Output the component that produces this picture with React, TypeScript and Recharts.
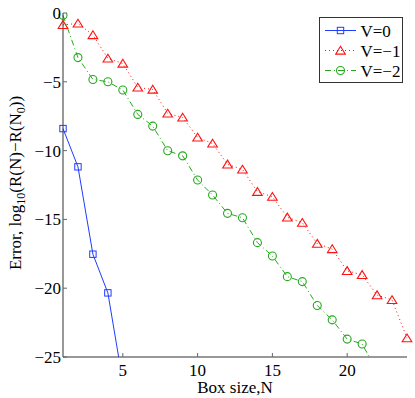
import React from 'react';
import { LineChart, Line, XAxis, YAxis, Legend } from 'recharts';

const boxSizes = [1, 2, 3, 4, 5, 6, 7, 8, 9, 10, 11, 12, 13, 14, 15, 16, 17, 18, 19, 20, 21, 22, 23, 24];
const errV0 = [-8.4, -11.18, -17.53, -20.34, -26.8];
const errVm1 = [-0.86, -0.76, -1.6, -3.3, -3.67, -5.41, -5.56, -7.3, -7.59, -9.04, -9.48, -11.0, -11.37, -12.99, -13.35, -14.85, -15.24, -16.76, -17.15, -18.74, -19.03, -20.5, -20.85, -23.63];
const errVm2 = [-0.17, -3.24, -4.83, -5.0, -5.6, -7.37, -8.22, -10.01, -10.38, -12.14, -13.23, -14.56, -14.88, -16.69, -17.66, -19.16, -19.52, -21.26, -22.3, -23.7, -24.06, -26.0];
const xTicks = [5, 10, 15, 20];
const yTicks = [-25, -20, -15, -10, -5, 0];
const seriesNames = ['V=0', 'V=\u22121', 'V=\u22122'];
const MINUS = '\u2212';

const data = boxSizes.map((n, i) => ({
  n,
  v0: errV0[i] ?? null,
  vm1: errVm1[i] ?? null,
  vm2: errVm2[i] ?? null,
}));

const FONT = "'Liberation Serif', 'Times New Roman', serif";
const BLUE = '#1f3cff';
const RED = '#ff1010';
const GREEN = '#26a81e';
const AXIS = '#333333';
const TICK = '#666666';

const fmt = (v: number) => (v < 0 ? MINUS + Math.abs(v) : String(v));

const BottomTick = (p: any) => (
  <g>
    <line x1={p.x} x2={p.x} y1={p.y} y2={p.y - 4} stroke={TICK} />
    <text x={p.x} y={p.y + 19} textAnchor="middle" fontFamily={FONT} fontSize={17} fill="#000">
      {fmt(p.payload.value)}
    </text>
  </g>
);
const TopTick = (p: any) => (
  <line x1={p.x} x2={p.x} y1={p.y} y2={p.y + 4} stroke={TICK} />
);
const LeftTick = (p: any) => (
  <g>
    <line x1={p.x} x2={p.x + 4} y1={p.y} y2={p.y} stroke={TICK} />
    <text x={p.x - 2} y={p.y + 6} textAnchor="end" fontFamily={FONT} fontSize={17} fill="#000">
      {fmt(p.payload.value)}
    </text>
  </g>
);
const RightTick = (p: any) => (
  <line x1={p.x} x2={p.x - 4} y1={p.y} y2={p.y} stroke={TICK} />
);

const Square = ({ cx, cy, color }: any) => (
  <rect x={cx - 3.2} y={cy - 3.2} width={6.4} height={6.4} fill="none" stroke={color} strokeWidth={1} />
);
const Tri = ({ cx, cy, color }: any) => (
  <polygon
    points={`${cx},${cy - 4.2} ${cx - 4.8},${cy + 3.6} ${cx + 4.8},${cy + 3.6}`}
    fill="none"
    stroke={color}
    strokeWidth={1.1}
  />
);
const Circ = ({ cx, cy, color }: any) => (
  <circle cx={cx} cy={cy} r={4} fill="none" stroke={color} strokeWidth={1.1} />
);

const mkDot = (Shape: any, color: string) => (props: any) => {
  const { cx, cy, index, value } = props;
  if (value == null || cx == null || cy == null) return <g key={`e${index}`} />;
  return <Shape key={`d${index}`} cx={cx} cy={cy} color={color} />;
};

const LegendBox = () => {
  const rows = [
    { name: seriesNames[0], color: BLUE, dash: undefined, Shape: Square },
    { name: seriesNames[1], color: RED, dash: '1 3', Shape: Tri },
    { name: seriesNames[2], color: GREEN, dash: '6 3 1 3', Shape: Circ },
  ];
  return (
    <svg width={85} height={67} style={{ display: 'block' }}>
      <rect x={0.5} y={0.5} width={83} height={65} fill="#fff" stroke={AXIS} strokeWidth={1} />
      {rows.map((r, i) => {
        const y = 13.5 + i * 20;
        return (
          <g key={r.name}>
            <line x1={6} x2={37} y1={y} y2={y} stroke={r.color} strokeDasharray={r.dash} />
            <r.Shape cx={21.5} cy={y} color={r.color} />
            <text x={41.5} y={y + 6} fontFamily={FONT} fontSize={17} fill="#000">
              {r.name}
            </text>
          </g>
        );
      })}
    </svg>
  );
};

const YLabel = (props: any) => {
  const vb = props.viewBox || { x: 0, y: 13, width: 63, height: 344 };
  const cx = vb.x + 21;
  const cy = vb.y + vb.height / 2 - 2;
  return (
    <text
      transform={`translate(${cx}, ${cy}) rotate(-90)`}
      x={0}
      y={0}
      textAnchor="middle"
      fontFamily={FONT}
      fontSize={17}
      fill="#000"
    >
      {'Error, log'}
      <tspan fontSize={12} dy={4}>10</tspan>
      <tspan dy={-4}>{'(R(N)' + MINUS + 'R(N'}</tspan>
      <tspan fontSize={12} dy={4}>0</tspan>
      <tspan dy={-4}>))</tspan>
    </text>
  );
};

const XLabel = (props: any) => {
  const vb = props.viewBox || { x: 63, y: 357, width: 344, height: 41 };
  return (
    <text x={vb.x + vb.width / 2} y={vb.y + 36} textAnchor="middle" fontFamily={FONT} fontSize={17} fill="#000">
      Box size,N
    </text>
  );
};

export default function App() {
  return (
    <div style={{ position: 'absolute', left: 0, top: 0, width: 415, height: 398, background: '#fff', fontFamily: FONT }}>
      <LineChart width={415} height={398} data={data} margin={{ top: 13, right: 8, bottom: 0, left: 0 }}>
        <XAxis
          dataKey="n"
          type="number"
          domain={[1, 24]}
          ticks={xTicks}
          height={41}
          tickSize={0}
          tickMargin={0}
          tickLine={false}
          axisLine={{ stroke: AXIS }}
          tick={<BottomTick />}
          label={{ content: <XLabel /> }}
        />
        <XAxis
          xAxisId="top"
          orientation="top"
          dataKey="n"
          type="number"
          domain={[1, 24]}
          ticks={xTicks}
          height={0}
          tickSize={0}
          tickMargin={0}
          tickLine={false}
          axisLine={{ stroke: AXIS }}
          tick={<TopTick />}
        />
        <YAxis
          type="number"
          domain={[-25, 0]}
          ticks={yTicks}
          allowDataOverflow
          width={63}
          tickSize={0}
          tickMargin={0}
          tickLine={false}
          axisLine={{ stroke: AXIS }}
          tick={<LeftTick />}
          label={{ content: <YLabel /> }}
        />
        <YAxis
          yAxisId="right"
          orientation="right"
          type="number"
          domain={[-25, 0]}
          ticks={yTicks}
          allowDataOverflow
          width={0}
          tickSize={0}
          tickMargin={0}
          tickLine={false}
          axisLine={{ stroke: AXIS }}
          tick={<RightTick />}
        />
        <Line
          dataKey="v0"
          name={seriesNames[0]}
          stroke={BLUE}
          strokeWidth={1}
          dot={mkDot(Square, BLUE)}
          isAnimationActive={false}
        />
        <Line
          dataKey="vm1"
          name={seriesNames[1]}
          stroke={RED}
          strokeWidth={1}
          strokeDasharray="1 3"
          dot={mkDot(Tri, RED)}
          isAnimationActive={false}
        />
        <Line
          dataKey="vm2"
          name={seriesNames[2]}
          stroke={GREEN}
          strokeWidth={1}
          strokeDasharray="6 3 1 3"
          dot={mkDot(Circ, GREEN)}
          isAnimationActive={false}
        />
        <Legend
          layout="vertical"
          align="center"
          verticalAlign="middle"
          wrapperStyle={{ position: 'absolute', left: 319, top: 17, width: 85, height: 67 }}
          content={() => <LegendBox />}
        />
      </LineChart>
    </div>
  );
}
